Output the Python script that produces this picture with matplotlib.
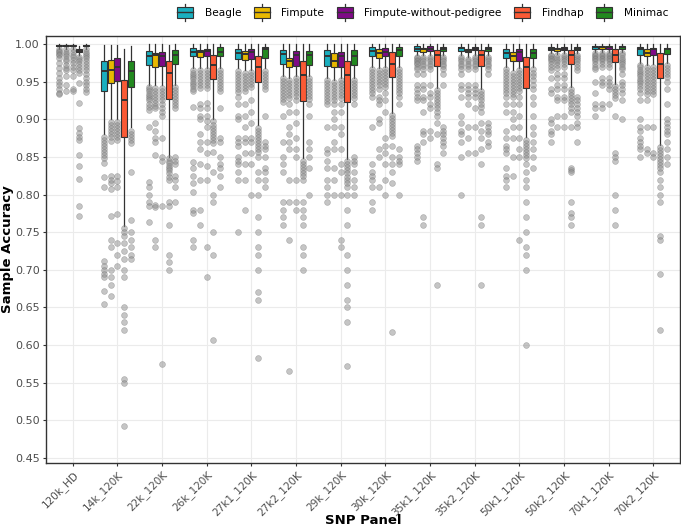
import matplotlib
matplotlib.use('Agg')
import matplotlib.pyplot as plt
from matplotlib.patches import Patch, Rectangle
from matplotlib.lines import Line2D
from matplotlib.legend_handler import HandlerBase

panels = ['120k_HD', '14k_120K', '22k_120K', '26k_120K', '27k1_120K', '27k2_120K',
          '29k_120K', '30k_120K', '35k1_120K', '35k2_120K', '50k1_120K', '50k2_120K',
          '70k1_120K', '70k2_120K']
methods = ['Beagle', 'Fimpute', 'Fimpute-without-pedigree', 'Findhap', 'Minimac']
colors = ['#1AAFBF', '#E8B800', '#7F0A87', '#FA5A35', '#22891F']

# box stats per panel: (whisker low, q1, median, q3, whisker high)
beagle = [(0.994, 0.997, 0.998, 0.999, 1.0), (0.881, 0.937, 0.964, 0.977, 0.999),
          (0.946, 0.972, 0.984, 0.991, 1.0), (0.968, 0.984, 0.990, 0.995, 1.0),
          (0.968, 0.980, 0.988, 0.994, 1.0), (0.958, 0.973, 0.987, 0.992, 1.0),
          (0.955, 0.971, 0.984, 0.992, 1.0), (0.970, 0.984, 0.991, 0.996, 1.0),
          (0.985, 0.991, 0.994, 0.998, 1.0), (0.985, 0.991, 0.995, 0.996, 1.0),
          (0.970, 0.981, 0.988, 0.993, 1.0), (0.988, 0.992, 0.994, 0.996, 1.0),
          (0.990, 0.993, 0.996, 0.998, 1.0), (0.975, 0.986, 0.993, 0.996, 1.0)]
fimpute = [(0.994, 0.997, 0.998, 0.999, 1.0), (0.901, 0.948, 0.965, 0.979, 0.999),
           (0.945, 0.970, 0.985, 0.988, 1.0), (0.968, 0.983, 0.990, 0.992, 1.0),
           (0.965, 0.979, 0.987, 0.991, 1.0), (0.955, 0.969, 0.977, 0.982, 1.0),
           (0.952, 0.969, 0.978, 0.988, 1.0), (0.968, 0.982, 0.988, 0.993, 1.0),
           (0.985, 0.990, 0.993, 0.995, 1.0), (0.983, 0.989, 0.991, 0.993, 1.0),
           (0.965, 0.977, 0.984, 0.990, 1.0), (0.987, 0.991, 0.993, 0.995, 1.0),
           (0.990, 0.993, 0.996, 0.998, 1.0), (0.972, 0.984, 0.988, 0.993, 1.0)]
fimpute_np = [(0.994, 0.997, 0.998, 0.999, 1.0), (0.901, 0.951, 0.969, 0.981, 0.999),
              (0.945, 0.971, 0.984, 0.990, 1.0), (0.968, 0.984, 0.991, 0.994, 1.0),
              (0.966, 0.980, 0.989, 0.993, 1.0), (0.958, 0.971, 0.986, 0.991, 1.0),
              (0.955, 0.970, 0.984, 0.990, 1.0), (0.970, 0.984, 0.990, 0.995, 1.0),
              (0.985, 0.991, 0.994, 0.997, 1.0), (0.985, 0.992, 0.994, 0.996, 1.0),
              (0.968, 0.978, 0.989, 0.993, 1.0), (0.988, 0.992, 0.994, 0.996, 1.0),
              (0.990, 0.993, 0.996, 0.998, 1.0), (0.973, 0.986, 0.993, 0.995, 1.0)]
findhap = [(0.985, 0.989, 0.991, 0.993, 0.997), (0.758, 0.876, 0.925, 0.952, 0.994),
           (0.850, 0.927, 0.962, 0.977, 0.999), (0.901, 0.953, 0.972, 0.986, 1.0),
           (0.892, 0.949, 0.969, 0.984, 1.0), (0.848, 0.924, 0.959, 0.977, 1.0),
           (0.847, 0.923, 0.959, 0.977, 1.0), (0.909, 0.956, 0.974, 0.989, 1.0),
           (0.942, 0.971, 0.986, 0.992, 1.0), (0.940, 0.971, 0.986, 0.992, 1.0),
           (0.876, 0.941, 0.970, 0.983, 1.0), (0.943, 0.973, 0.985, 0.992, 1.0),
           (0.947, 0.976, 0.986, 0.993, 1.0), (0.866, 0.955, 0.974, 0.988, 1.0)]
minimac = [(0.994, 0.997, 0.998, 0.999, 1.0), (0.890, 0.943, 0.964, 0.977, 0.998),
           (0.946, 0.973, 0.985, 0.992, 1.0), (0.968, 0.984, 0.990, 0.996, 1.0),
           (0.968, 0.981, 0.993, 0.996, 1.0), (0.958, 0.972, 0.986, 0.991, 1.0),
           (0.955, 0.972, 0.984, 0.992, 1.0), (0.970, 0.984, 0.992, 0.996, 1.0),
           (0.985, 0.991, 0.994, 0.996, 1.0), (0.985, 0.991, 0.994, 0.996, 1.0),
           (0.970, 0.981, 0.988, 0.993, 1.0), (0.988, 0.992, 0.994, 0.996, 1.0),
           (0.990, 0.993, 0.996, 0.998, 1.0), (0.975, 0.987, 0.993, 0.995, 1.0)]

# outlying samples per panel
beagle_out = [
    [0.993, 0.991, 0.989, 0.987, 0.985, 0.982, 0.975, 0.968, 0.962, 0.955, 0.950, 0.945, 0.940, 0.935, 0.933],
    [0.876, 0.872, 0.868, 0.864, 0.860, 0.856, 0.852, 0.848, 0.842, 0.823, 0.810, 0.712, 0.705, 0.700, 0.695, 0.690, 0.672, 0.655],
    [0.943, 0.940, 0.937, 0.934, 0.931, 0.928, 0.925, 0.921, 0.917, 0.912, 0.890, 0.817, 0.810, 0.800, 0.790, 0.785, 0.763],
    [0.965, 0.962, 0.959, 0.956, 0.953, 0.950, 0.947, 0.944, 0.940, 0.937, 0.916, 0.843, 0.835, 0.825, 0.815, 0.803, 0.780, 0.776, 0.740, 0.730],
    [0.964, 0.960, 0.956, 0.952, 0.948, 0.944, 0.940, 0.936, 0.930, 0.920, 0.905, 0.900, 0.875, 0.870, 0.865, 0.850, 0.845, 0.840, 0.830, 0.820, 0.750],
    [0.955, 0.951, 0.947, 0.943, 0.939, 0.935, 0.931, 0.927, 0.923, 0.905, 0.870, 0.850, 0.840, 0.830, 0.790, 0.780, 0.770, 0.760],
    [0.952, 0.948, 0.944, 0.940, 0.936, 0.932, 0.928, 0.924, 0.920, 0.890, 0.860, 0.855, 0.845, 0.835, 0.820, 0.810, 0.800, 0.790],
    [0.967, 0.963, 0.959, 0.955, 0.951, 0.947, 0.943, 0.939, 0.935, 0.930, 0.890, 0.840, 0.830, 0.825, 0.820, 0.810, 0.790, 0.780],
    [0.983, 0.981, 0.979, 0.977, 0.975, 0.973, 0.970, 0.967, 0.960, 0.945, 0.940, 0.935, 0.930, 0.925, 0.865, 0.860, 0.855, 0.850, 0.845],
    [0.983, 0.980, 0.977, 0.974, 0.971, 0.967, 0.960, 0.945, 0.940, 0.930, 0.905, 0.895, 0.885, 0.880, 0.870, 0.850, 0.800],
    [0.967, 0.963, 0.959, 0.955, 0.951, 0.947, 0.943, 0.939, 0.935, 0.930, 0.920, 0.910, 0.885, 0.875, 0.865, 0.860, 0.855, 0.835, 0.825, 0.820, 0.810],
    [0.986, 0.984, 0.982, 0.980, 0.977, 0.974, 0.970, 0.965, 0.955, 0.940, 0.935, 0.900, 0.895, 0.885, 0.880, 0.870],
    [0.988, 0.986, 0.984, 0.982, 0.980, 0.977, 0.974, 0.970, 0.967, 0.950, 0.935, 0.920, 0.915, 0.905],
    [0.972, 0.969, 0.966, 0.963, 0.960, 0.957, 0.954, 0.951, 0.948, 0.944, 0.940, 0.935, 0.925, 0.900, 0.890, 0.885, 0.875, 0.870, 0.865, 0.860, 0.850],
]
fimpute_out = [
    [0.993, 0.990, 0.987, 0.984, 0.980, 0.977, 0.972, 0.968, 0.965, 0.957, 0.945, 0.938],
    [0.897, 0.892, 0.888, 0.884, 0.880, 0.876, 0.871, 0.825, 0.820, 0.815, 0.808, 0.771, 0.740, 0.730, 0.700, 0.690, 0.680, 0.665],
    [0.942, 0.938, 0.934, 0.930, 0.926, 0.922, 0.918, 0.915, 0.895, 0.885, 0.875, 0.870, 0.852, 0.786, 0.783, 0.740, 0.730],
    [0.965, 0.961, 0.957, 0.953, 0.949, 0.945, 0.941, 0.920, 0.915, 0.905, 0.900, 0.880, 0.870, 0.860, 0.840, 0.820, 0.780, 0.760],
    [0.962, 0.958, 0.954, 0.950, 0.946, 0.942, 0.938, 0.920, 0.905, 0.890, 0.875, 0.870, 0.855, 0.840, 0.820, 0.780],
    [0.952, 0.948, 0.944, 0.940, 0.936, 0.932, 0.928, 0.920, 0.910, 0.890, 0.880, 0.870, 0.860, 0.820, 0.790, 0.740, 0.565],
    [0.949, 0.945, 0.941, 0.937, 0.933, 0.929, 0.925, 0.920, 0.910, 0.900, 0.890, 0.870, 0.860, 0.835, 0.820, 0.800],
    [0.965, 0.961, 0.957, 0.953, 0.949, 0.945, 0.940, 0.930, 0.925, 0.920, 0.900, 0.895, 0.860, 0.850, 0.810],
    [0.983, 0.980, 0.977, 0.974, 0.971, 0.967, 0.960, 0.945, 0.940, 0.930, 0.925, 0.910, 0.885, 0.880, 0.870, 0.770, 0.760],
    [0.980, 0.977, 0.974, 0.971, 0.967, 0.945, 0.940, 0.935, 0.930, 0.920, 0.890, 0.875, 0.855],
    [0.962, 0.958, 0.954, 0.950, 0.946, 0.942, 0.938, 0.934, 0.930, 0.920, 0.910, 0.900, 0.890, 0.875, 0.850, 0.825],
    [0.985, 0.982, 0.979, 0.976, 0.972, 0.968, 0.960, 0.955, 0.945, 0.940, 0.930, 0.925, 0.905, 0.890],
    [0.988, 0.986, 0.984, 0.982, 0.980, 0.977, 0.974, 0.970, 0.955, 0.950, 0.945, 0.920, 0.915],
    [0.969, 0.965, 0.961, 0.957, 0.953, 0.949, 0.945, 0.941, 0.937, 0.933, 0.925, 0.890, 0.860, 0.855],
]
fimpute_np_out = [
    [0.993, 0.990, 0.986, 0.983, 0.979, 0.975, 0.970, 0.966, 0.957, 0.940, 0.937],
    [0.897, 0.893, 0.889, 0.885, 0.881, 0.877, 0.872, 0.825, 0.818, 0.810, 0.774, 0.735, 0.720, 0.705],
    [0.941, 0.937, 0.933, 0.929, 0.925, 0.920, 0.915, 0.910, 0.905, 0.875, 0.850, 0.845, 0.785, 0.575],
    [0.965, 0.961, 0.957, 0.953, 0.949, 0.945, 0.941, 0.922, 0.915, 0.905, 0.898, 0.890, 0.870, 0.855, 0.838, 0.820, 0.730, 0.690],
    [0.963, 0.959, 0.955, 0.951, 0.947, 0.943, 0.925, 0.910, 0.895, 0.875, 0.870, 0.855, 0.840, 0.800],
    [0.955, 0.951, 0.947, 0.943, 0.939, 0.935, 0.931, 0.925, 0.910, 0.895, 0.875, 0.860, 0.850, 0.820, 0.790, 0.780],
    [0.952, 0.948, 0.944, 0.940, 0.936, 0.932, 0.928, 0.920, 0.910, 0.890, 0.880, 0.860, 0.840, 0.830, 0.800, 0.740, 0.730],
    [0.967, 0.963, 0.959, 0.955, 0.951, 0.947, 0.943, 0.935, 0.925, 0.910, 0.875, 0.865, 0.855, 0.840, 0.820, 0.800],
    [0.983, 0.980, 0.977, 0.974, 0.971, 0.967, 0.945, 0.935, 0.930, 0.920, 0.915, 0.885, 0.875],
    [0.983, 0.980, 0.977, 0.974, 0.971, 0.967, 0.945, 0.940, 0.935, 0.930, 0.915, 0.890, 0.855],
    [0.965, 0.961, 0.957, 0.953, 0.949, 0.945, 0.941, 0.937, 0.930, 0.920, 0.905, 0.890, 0.875, 0.860, 0.850, 0.740],
    [0.986, 0.983, 0.980, 0.977, 0.973, 0.969, 0.960, 0.955, 0.945, 0.940, 0.930, 0.925, 0.905, 0.890],
    [0.988, 0.986, 0.984, 0.982, 0.980, 0.977, 0.974, 0.970, 0.955, 0.950, 0.945, 0.940, 0.920],
    [0.970, 0.966, 0.962, 0.958, 0.954, 0.950, 0.946, 0.942, 0.938, 0.934, 0.890, 0.855, 0.850],
]
findhap_out = [
    [0.983, 0.980, 0.977, 0.974, 0.970, 0.966, 0.961, 0.948, 0.922, 0.888, 0.882, 0.876, 0.872, 0.852, 0.838, 0.821, 0.785, 0.771],
    [0.755, 0.750, 0.745, 0.735, 0.725, 0.715, 0.700, 0.690, 0.650, 0.640, 0.630, 0.620, 0.555, 0.550, 0.493],
    [0.848, 0.845, 0.842, 0.838, 0.835, 0.832, 0.828, 0.824, 0.820, 0.790, 0.785, 0.760, 0.720, 0.710, 0.700],
    [0.898, 0.893, 0.889, 0.885, 0.881, 0.877, 0.873, 0.868, 0.857, 0.830, 0.800, 0.790, 0.750, 0.720, 0.607],
    [0.889, 0.885, 0.881, 0.877, 0.873, 0.869, 0.865, 0.861, 0.857, 0.850, 0.830, 0.820, 0.800, 0.770, 0.750, 0.730, 0.720, 0.700, 0.670, 0.660, 0.583],
    [0.845, 0.841, 0.837, 0.833, 0.829, 0.825, 0.820, 0.790, 0.780, 0.770, 0.760, 0.730, 0.720, 0.700],
    [0.844, 0.840, 0.836, 0.832, 0.828, 0.824, 0.820, 0.816, 0.810, 0.800, 0.780, 0.760, 0.720, 0.700, 0.680, 0.660, 0.650, 0.630, 0.572],
    [0.906, 0.902, 0.898, 0.894, 0.890, 0.886, 0.882, 0.878, 0.865, 0.850, 0.840, 0.830, 0.815, 0.617],
    [0.939, 0.935, 0.931, 0.927, 0.923, 0.919, 0.915, 0.910, 0.905, 0.895, 0.880, 0.840, 0.835, 0.680],
    [0.937, 0.933, 0.929, 0.925, 0.921, 0.917, 0.910, 0.895, 0.885, 0.875, 0.860, 0.840, 0.770, 0.760, 0.680],
    [0.873, 0.869, 0.865, 0.861, 0.857, 0.853, 0.849, 0.840, 0.830, 0.820, 0.810, 0.790, 0.770, 0.750, 0.730, 0.720, 0.700, 0.600],
    [0.940, 0.936, 0.932, 0.928, 0.924, 0.920, 0.915, 0.910, 0.890, 0.835, 0.833, 0.830, 0.790, 0.775, 0.770, 0.760],
    [0.944, 0.940, 0.936, 0.932, 0.928, 0.905, 0.855, 0.850, 0.845, 0.800, 0.780, 0.760],
    [0.863, 0.859, 0.855, 0.851, 0.847, 0.843, 0.839, 0.835, 0.830, 0.820, 0.810, 0.800, 0.790, 0.745, 0.740, 0.695, 0.620],
]
minimac_out = [
    [0.993, 0.990, 0.987, 0.984, 0.981, 0.977, 0.973, 0.969, 0.965, 0.960, 0.955, 0.950, 0.945, 0.940, 0.936],
    [0.885, 0.880, 0.876, 0.872, 0.868, 0.830, 0.766, 0.750, 0.740, 0.730, 0.720, 0.715],
    [0.943, 0.939, 0.935, 0.931, 0.927, 0.923, 0.919, 0.915, 0.850, 0.845, 0.840, 0.825, 0.820, 0.810, 0.790],
    [0.965, 0.961, 0.957, 0.953, 0.949, 0.945, 0.941, 0.937, 0.915, 0.875, 0.870, 0.850, 0.840, 0.835, 0.825, 0.810],
    [0.964, 0.960, 0.956, 0.952, 0.948, 0.944, 0.940, 0.905, 0.870, 0.865, 0.860, 0.850, 0.835, 0.830, 0.820, 0.810],
    [0.955, 0.951, 0.947, 0.943, 0.939, 0.935, 0.931, 0.927, 0.920, 0.905, 0.870, 0.860, 0.850, 0.835, 0.800],
    [0.952, 0.948, 0.944, 0.940, 0.936, 0.932, 0.928, 0.920, 0.850, 0.845, 0.840, 0.830, 0.820, 0.810, 0.800],
    [0.967, 0.963, 0.959, 0.955, 0.951, 0.947, 0.943, 0.939, 0.935, 0.930, 0.920, 0.860, 0.850, 0.845, 0.840, 0.800],
    [0.983, 0.980, 0.977, 0.974, 0.971, 0.967, 0.960, 0.945, 0.890, 0.885, 0.880, 0.875, 0.870, 0.865, 0.855],
    [0.983, 0.980, 0.977, 0.974, 0.971, 0.967, 0.960, 0.895, 0.890, 0.885, 0.880, 0.870, 0.865],
    [0.967, 0.962, 0.957, 0.952, 0.946, 0.940, 0.930, 0.920, 0.905, 0.890, 0.880, 0.870, 0.860, 0.850, 0.835],
    [0.986, 0.983, 0.980, 0.977, 0.973, 0.969, 0.965, 0.930, 0.925, 0.920, 0.915, 0.910, 0.905, 0.895, 0.890, 0.870],
    [0.988, 0.985, 0.982, 0.979, 0.976, 0.973, 0.970, 0.967, 0.960, 0.950, 0.945, 0.940, 0.935, 0.925, 0.900],
    [0.972, 0.968, 0.964, 0.960, 0.956, 0.950, 0.940, 0.920, 0.900, 0.895, 0.890, 0.885, 0.880, 0.870, 0.860, 0.850, 0.840],
]

all_stats = [beagle, fimpute, fimpute_np, findhap, minimac]
all_out = [beagle_out, fimpute_out, fimpute_np_out, findhap_out, minimac_out]


class BoxKey(HandlerBase):
    # legend key drawn like a small boxplot: whisker, box, median
    def create_artists(self, legend, orig_handle, xdescent, ydescent,
                       width, height, fontsize, trans):
        x0, y0 = -xdescent, -ydescent
        cx = x0 + width / 2
        whisk = Line2D([cx, cx], [y0 - 0.3 * height, y0 + 1.3 * height],
                       color='#333333', linewidth=0.9, transform=trans)
        rect = Rectangle((x0, y0), width, height,
                         facecolor=orig_handle.get_facecolor(),
                         edgecolor='#333333', linewidth=0.8, transform=trans)
        med = Line2D([x0, x0 + width], [y0 + height / 2] * 2,
                     color='#333333', linewidth=1.0, transform=trans)
        return [whisk, rect, med]


def main():
    fig = plt.figure(figsize=(6.81, 5.31), dpi=100)
    ax = fig.add_axes([46 / 681, 1 - 463 / 531, 634 / 681, 427 / 531])

    ax.set_axisbelow(True)
    ax.grid(True, color='#EBEBEB', linewidth=0.8)

    dodge = 0.15
    for m, (stats, outs, col) in enumerate(zip(all_stats, all_out, colors)):
        bxp_stats = []
        positions = []
        for i, (lo, q1, med, q3, hi) in enumerate(stats):
            bxp_stats.append(dict(whislo=lo, q1=q1, med=med, q3=q3, whishi=hi,
                                  fliers=outs[i]))
            positions.append(i + 1 + (m - 2) * dodge)
        ax.bxp(bxp_stats, positions=positions, widths=0.135, patch_artist=True,
               showcaps=False,
               boxprops=dict(facecolor=col, edgecolor='#333333', linewidth=0.8),
               medianprops=dict(color='#333333', linewidth=1.4),
               whiskerprops=dict(color='#333333', linewidth=0.9),
               flierprops=dict(marker='o', markersize=4.2, markerfacecolor='#8C8C8C',
                               markeredgecolor='#6E6E6E', markeredgewidth=0.4,
                               alpha=0.5, linestyle='none'),
               manage_ticks=False)

    ax.set_xlim(0.4, 14.6)
    ax.set_ylim(0.4433, 1.0107)
    ax.set_xticks(range(1, len(panels) + 1))
    ax.set_xticklabels(panels, rotation=45, ha='right', rotation_mode='anchor',
                       fontsize=7.5)
    yt = [0.45 + 0.05 * k for k in range(12)]
    ax.set_yticks(yt)
    ax.set_yticklabels([f'{v:.2f}' for v in yt], fontsize=8)
    ax.tick_params(axis='both', colors='#333333', length=2.5,
                   width=0.8, labelcolor='#4D4D4D', pad=2)
    for s in ax.spines.values():
        s.set_color('#333333')
        s.set_linewidth(1.0)

    fig.text(363 / 681, 1 - 521 / 531, 'SNP Panel', fontsize=9.5,
             fontweight='bold', ha='center', va='center')
    fig.text(8 / 681, 1 - 249.5 / 531, 'Sample Accuracy', fontsize=9.5,
             fontweight='bold', ha='center', va='center', rotation=90)

    handles = [Patch(facecolor=c) for c in colors]
    fig.legend(handles, methods, loc='upper right', bbox_to_anchor=(0.995, 1.005),
               ncol=5, frameon=False, fontsize=7.6, handlelength=1.5,
               handleheight=1.2, handletextpad=1.1, columnspacing=1.2,
               handler_map={Patch: BoxKey()})

    fig.savefig('out.png', dpi=100)
    plt.close(fig)


if __name__ == '__main__':
    main()
